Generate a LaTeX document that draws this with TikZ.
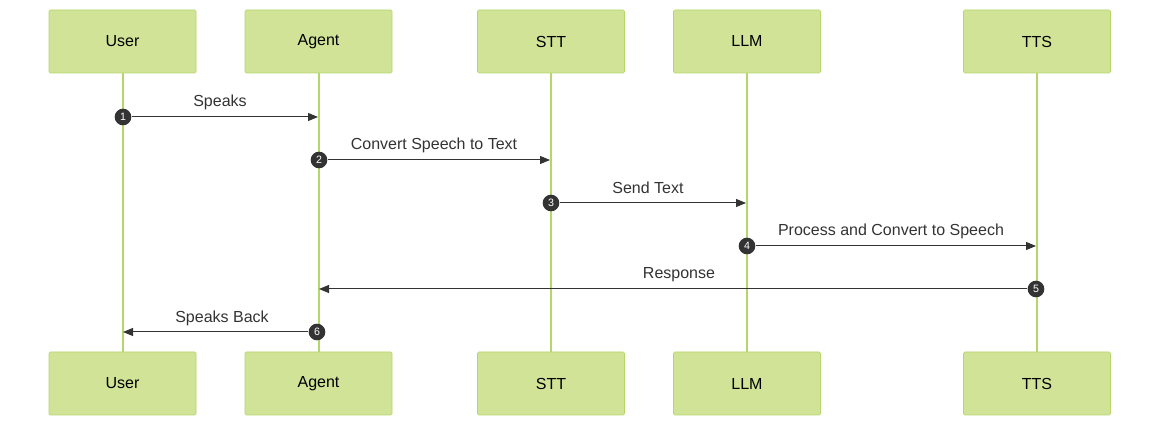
\documentclass[tikz,border=0pt]{standalone}
\usepackage{fontspec}
\setmainfont{Liberation Sans}
\usetikzlibrary{arrows.meta}
\definecolor{actfill}{HTML}{D0E397}
\definecolor{actline}{HTML}{B5D66A}
\definecolor{msgline}{HTML}{333333}
\begin{document}
\begin{tikzpicture}[x=0.75pt, y=-0.75pt,
    actor/.style={draw=actline, fill=actfill, rectangle, minimum width=110.25pt, minimum height=47.25pt, rounded corners=1pt, font=\fontsize{12}{14}\selectfont},
    life/.style={draw=actline, line width=1.5pt},
    num/.style={circle, fill=msgline, text=white, inner sep=0pt, minimum size=12.5pt, font=\fontsize{8}{9}\selectfont},
    msg/.style={draw=msgline, line width=0.75pt, -{Triangle[length=7.5pt, width=6pt]}},
    lbl/.style={text=msgline, font=\fontsize{12}{14}\selectfont}
]
\useasboundingbox (0,0) rectangle (1160,427);

% Actors, top and bottom
\foreach \name/\x/\txt in {user/122.5/User, agent/318.5/Agent, stt/551/STT, llm/747/LLM, tts/1037/TTS} {
    \draw[life] (\x,73) -- (\x,352);
    \node[actor] (\name top) at (\x,41.5) {\txt};
    \node[actor] (\name bot) at (\x,383.5) {\txt};
}

% Message end points
\coordinate (m1end) at (318,117);
\coordinate (m2end) at (550,160);
\coordinate (m3end) at (746,203);
\coordinate (m4end) at (1036,246);
\coordinate (m5end) at (319,289);
\coordinate (m6end) at (123,332);

% Numbered markers
\node[num] (m1) at (123,117) {1};
\node[num] (m2) at (319,160) {2};
\node[num] (m3) at (551,203) {3};
\node[num] (m4) at (747,246) {4};
\node[num] (m5) at (1036,289) {5};
\node[num] (m6) at (317,332) {6};

% Messages
\draw[msg] (m1) -- (m1end);
\draw[msg] (m2) -- (m2end);
\draw[msg] (m3) -- (m3end);
\draw[msg] (m4) -- (m4end);
\draw[msg] (m5) -- (m5end);
\draw[msg] (m6) -- (m6end);

% Labels
\node[lbl] (l1) at (220,102) {Speaks};
\node[lbl] (l2) at (434,145) {Convert Speech to Text};
\node[lbl] (l3) at (648,188) {Send Text};
\node[lbl] (l4) at (891,231) {Process and Convert to Speech};
\node[lbl] (l5) at (679,275) {Response};
\node[lbl] (l6) at (222,318) {Speaks Back};

\end{tikzpicture}
\end{document}
